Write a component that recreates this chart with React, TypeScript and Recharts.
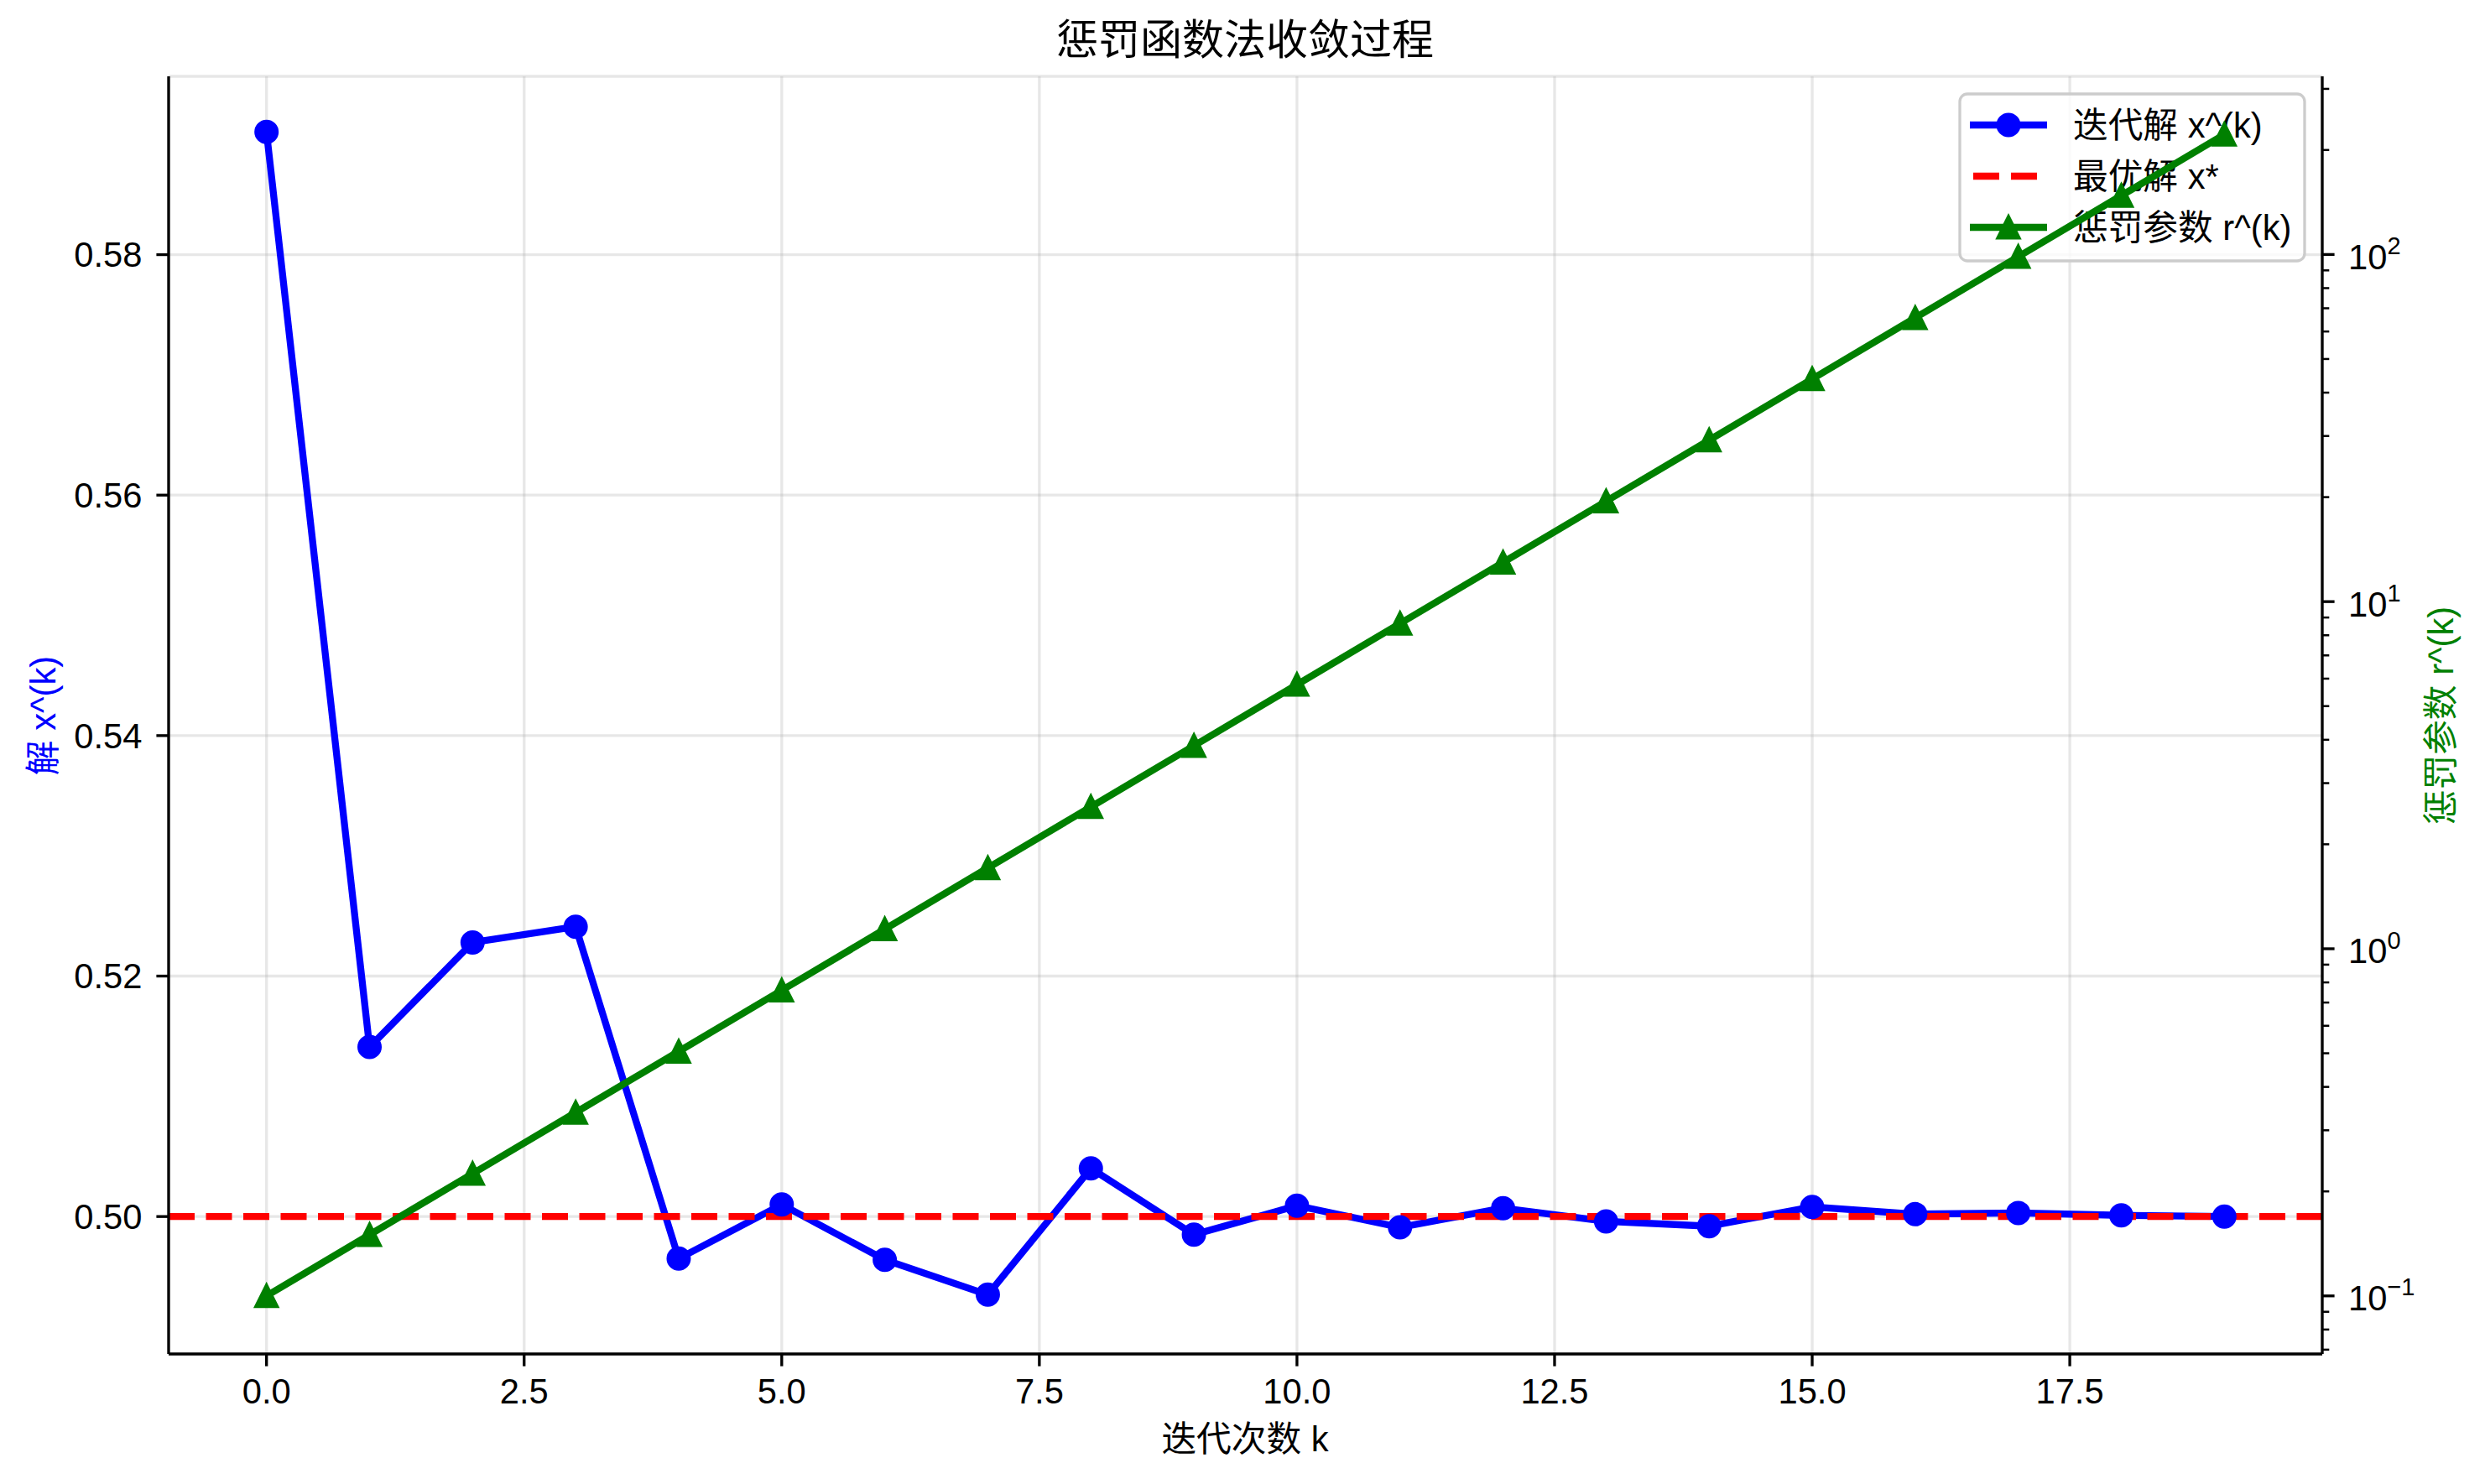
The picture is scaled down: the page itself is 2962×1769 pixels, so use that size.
import {
  ComposedChart,
  Line,
  XAxis,
  YAxis,
  CartesianGrid,
  ReferenceLine,
} from "recharts";

const ITER = [0, 1, 2, 3, 4, 5, 6, 7, 8, 9, 10, 11, 12, 13, 14, 15, 16, 17, 18, 19];
const X_SOLUTION = [
  0.5902, 0.5141, 0.5228, 0.5241, 0.4965, 0.501, 0.4964, 0.4935, 0.504, 0.4985,
  0.5009, 0.4991, 0.5007, 0.4996, 0.4992, 0.5008, 0.5002, 0.5003, 0.5001, 0.5,
];
const PENALTY = [
  0.1, 0.15, 0.225, 0.3375, 0.506, 0.759, 1.139, 1.709, 2.563, 3.844,
  5.767, 8.65, 12.97, 19.46, 29.19, 43.79, 65.68, 98.53, 147.8, 221.7,
];
const X_OPT = 0.5;

const X_TICKS = [0, 2.5, 5, 7.5, 10, 12.5, 15, 17.5];
const LEFT_TICKS = [0.5, 0.52, 0.54, 0.56, 0.58];
const R_MAJOR = [0.1, 1, 10, 100];
const R_MAJOR_EXP = ["\u22121", "0", "1", "2"];
const R_MINOR = [
  0.07, 0.08, 0.09, 0.2, 0.3, 0.4, 0.5, 0.6, 0.7, 0.8, 0.9,
  2, 3, 4, 5, 6, 7, 8, 9, 20, 30, 40, 50, 60, 70, 80, 90, 200, 300,
];

const TITLE = "惩罚函数法收敛过程";
const X_LABEL = "迭代次数 k";
const LEFT_LABEL = "解 x^(k)";
const RIGHT_LABEL = "惩罚参数 r^(k)";
const LEGEND_NAMES = ["迭代解 x^(k)", "最优解 x*", "惩罚参数 r^(k)"];

const rows = ITER.map((k, i) => ({ k, x: X_SOLUTION[i], r: PENALTY[i] }));

const FONT = "'Liberation Sans', 'Noto Sans CJK SC', sans-serif";
const FS = 41.7;
const BLUE = "#0000ff";
const RED = "#ff0000";
const GREEN = "#008000";
const LW = 8.3;

const Circle = (p: any) =>
  p.cx == null ? null : (
    <circle key={p.index} cx={p.cx} cy={p.cy} r={12.5} fill={BLUE} stroke={BLUE} strokeWidth={4} />
  );

const Tri = (p: any) =>
  p.cx == null ? null : (
    <path
      key={p.index}
      d={`M${p.cx},${p.cy - 12.5} L${p.cx + 12.5},${p.cy + 12.5} L${p.cx - 12.5},${p.cy + 12.5} Z`}
      fill={GREEN}
      stroke={GREEN}
      strokeWidth={4}
      strokeLinejoin="miter"
    />
  );

const LogTick = (p: any) => {
  const v = p.payload.value;
  const mi = R_MAJOR.indexOf(v);
  const major = mi >= 0;
  return (
    <g>
      <line
        x1={p.x}
        x2={p.x + (major ? 14.6 : 8.3)}
        y1={p.y}
        y2={p.y}
        stroke="#000"
        strokeWidth={major ? 3.33 : 2.5}
      />
      {major && (
        <text x={p.x + 31} y={p.y} dy="0.42em" fontSize={FS} fontFamily={FONT} fill="#000">
          10
          <tspan dy="-0.62em" fontSize={29}>
            {R_MAJOR_EXP[mi]}
          </tspan>
        </text>
      )}
    </g>
  );
};

function LegendBox() {
  const x0 = 2336;
  const y0 = 112;
  const rowY = [149, 210, 271];
  const hx1 = 2348;
  const hx2 = 2440;
  const mid = (hx1 + hx2) / 2;
  return (
    <g>
      <rect x={x0} y={y0} width={411} height={199} rx={9} fill="#fff" fillOpacity={0.8} stroke="#cccccc" strokeWidth={3.3} />
      <line x1={hx1} x2={hx2} y1={rowY[0]} y2={rowY[0]} stroke={BLUE} strokeWidth={LW} />
      <Circle cx={mid} cy={rowY[0]} />
      <line x1={hx1 + 4} x2={hx2} y1={rowY[1]} y2={rowY[1]} stroke={RED} strokeWidth={LW} strokeDasharray="31 14" />
      <line x1={hx1} x2={hx2} y1={rowY[2]} y2={rowY[2]} stroke={GREEN} strokeWidth={LW} />
      <Tri cx={mid} cy={rowY[2]} />
      {LEGEND_NAMES.map((n, i) => (
        <text key={n} x={2471} y={rowY[i]} dy="0.36em" fontSize={FS} fontFamily={FONT} fill="#000">
          {n}
        </text>
      ))}
    </g>
  );
}

export default function App() {
  return (
    <div style={{ position: "absolute", left: 0, top: 0, width: 2962, height: 1769, background: "#fff" }}>
      <ComposedChart
        width={2962}
        height={1769}
        data={rows}
        margin={{ top: 91, right: 0, bottom: 0, left: 0 }}
        style={{ fontFamily: FONT }}
      >
        <CartesianGrid yAxisId="left" stroke="#b0b0b0" strokeOpacity={0.3} strokeWidth={3.3} />
        <XAxis
          dataKey="k"
          type="number"
          domain={[-0.95, 19.95]}
          allowDataOverflow
          ticks={X_TICKS}
          interval={0}
          tickFormatter={(v: number) => v.toFixed(1)}
          height={155}
          tickSize={14.6}
          tickMargin={14.6}
          tick={{ fontSize: FS, fill: "#000", fontFamily: FONT }}
          tickLine={{ stroke: "#000", strokeWidth: 3.33 }}
          axisLine={{ stroke: "#000", strokeWidth: 3.33 }}
        />
        <XAxis
          xAxisId="top"
          orientation="top"
          dataKey="k"
          type="number"
          domain={[-0.95, 19.95]}
          allowDataOverflow
          height={0}
          tick={false}
          tickLine={false}
          axisLine={{ stroke: "#000", strokeWidth: 3.33 }}
        />
        <YAxis
          yAxisId="left"
          type="number"
          domain={[0.48857, 0.59483]}
          allowDataOverflow
          ticks={LEFT_TICKS}
          interval={0}
          tickFormatter={(v: number) => v.toFixed(2)}
          width={201}
          tickSize={14.6}
          tickMargin={17}
          tick={{ fontSize: FS, fill: "#000", fontFamily: FONT }}
          tickLine={{ stroke: "#000", strokeWidth: 3.33 }}
          axisLine={{ stroke: "#000", strokeWidth: 3.33 }}
        />
        <YAxis
          yAxisId="right"
          orientation="right"
          type="number"
          scale="log"
          domain={[0.06803, 325.99]}
          allowDataOverflow
          ticks={[...R_MINOR, ...R_MAJOR].sort((a, b) => a - b)}
          interval={0}
          width={194}
          tickSize={0}
          tickMargin={0}
          tick={<LogTick />}
          tickLine={false}
          axisLine={{ stroke: "#000", strokeWidth: 3.33 }}
        />
        <Line
          yAxisId="left"
          dataKey="x"
          type="linear"
          stroke={BLUE}
          strokeWidth={LW}
          dot={<Circle />}
          activeDot={false}
          isAnimationActive={false}
        />
        <ReferenceLine
          yAxisId="left"
          y={X_OPT}
          stroke={RED}
          strokeWidth={LW}
          strokeDasharray="31 13.5"
        />
        <LegendBox />
        <Line
          yAxisId="right"
          dataKey="r"
          type="linear"
          stroke={GREEN}
          strokeWidth={LW}
          dot={<Tri />}
          activeDot={false}
          isAnimationActive={false}
        />
        <text x={1484} y={47} dy="0.36em" textAnchor="middle" fontSize={50} fontFamily={FONT} fill="#000">
          {TITLE}
        </text>
        <text x={1484} y={1715} dy="0.36em" textAnchor="middle" fontSize={FS} fontFamily={FONT} fill="#000">
          {X_LABEL}
        </text>
        <text
          x={51}
          y={853}
          dy="0.36em"
          textAnchor="middle"
          fontSize={FS}
          fontFamily={FONT}
          fill={BLUE}
          transform="rotate(-90 51 853)"
        >
          {LEFT_LABEL}
        </text>
        <text
          x={2909}
          y={853}
          dy="0.36em"
          textAnchor="middle"
          fontSize={FS}
          fontFamily={FONT}
          fill={GREEN}
          transform="rotate(-90 2909 853)"
        >
          {RIGHT_LABEL}
        </text>
      </ComposedChart>
    </div>
  );
}
